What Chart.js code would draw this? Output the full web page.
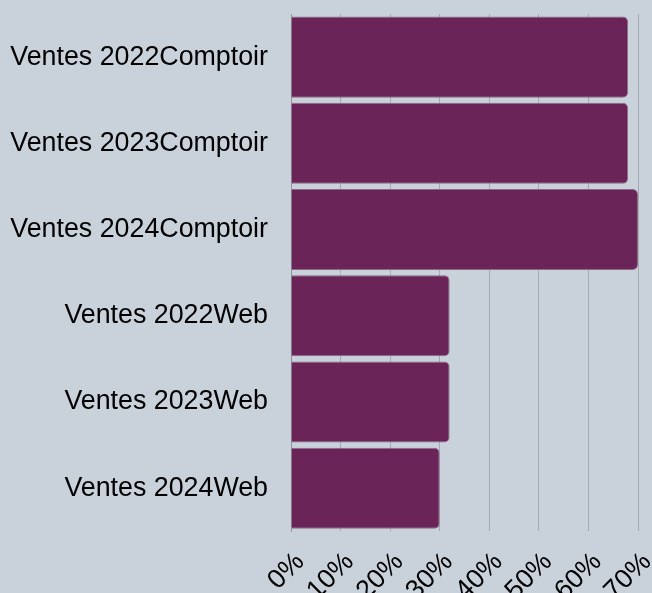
<!DOCTYPE html>
<html>
<head>
<meta charset="utf-8">
<script src="https://cdn.jsdelivr.net/npm/chart.js@4"></script>
<style>
  html, body { margin: 0; padding: 0; background: #c9d1db; }
  #wrap { width: 652px; height: 593px; }
</style>
</head>
<body>
<div id="wrap"><canvas id="chart"></canvas></div>
<script>
const categories = [
  'Ventes 2022Comptoir',
  'Ventes 2023Comptoir',
  'Ventes 2024Comptoir',
  'Ventes 2022Web',
  'Ventes 2023Web',
  'Ventes 2024Web'
];
const shares = [68, 68, 70, 32, 32, 30];
const xTicks = [0, 10, 20, 30, 40, 50, 60, 70];

const ctx = document.getElementById('chart').getContext('2d');
const shareChart = new Chart(ctx, {
  type: 'bar',
  data: {
    labels: categories,
    datasets: [{
      data: shares,
      backgroundColor: '#6b2457',
      borderColor: '#8a6a86',
      borderWidth: 1,
      borderRadius: 5,
      barPercentage: 0.94,
      categoryPercentage: 1
    }]
  },
  options: {
    indexAxis: 'y',
    responsive: true,
    maintainAspectRatio: false,
    animation: false,
    layout: { padding: { top: 14, right: 14, left: 9, bottom: 0 } },
    plugins: {
      legend: { display: false },
      tooltip: { enabled: false }
    },
    scales: {
      x: {
        min: 0,
        max: 70,
        afterBuildTicks: (axis) => {
          axis.ticks = xTicks.map((v) => ({ value: v }));
        },
        afterFit: (axis) => {
          axis.height -= 29;
          axis.paddingLeft = 0;
          axis.paddingRight = 0;
        },
        grid: { color: '#a3aab3', drawTicks: false },
        border: { display: false },
        ticks: {
          color: '#000',
          font: { family: 'Liberation Sans', size: 26.8 },
          autoSkip: false,
          minRotation: 45,
          maxRotation: 45,
          padding: 15,
          labelOffset: 9,
          callback: (v) => v + '%'
        }
      },
      y: {
        afterFit: (axis) => {
          axis.width = 282;
          axis.paddingTop = 0;
          axis.paddingBottom = 0;
        },
        grid: { display: false, drawTicks: false },
        border: { display: true, color: '#8f959c' },
        ticks: {
          color: '#000',
          font: { family: 'Liberation Sans', size: 26.8 },
          padding: 23
        }
      }
    }
  }
});
</script>
</body>
</html>
